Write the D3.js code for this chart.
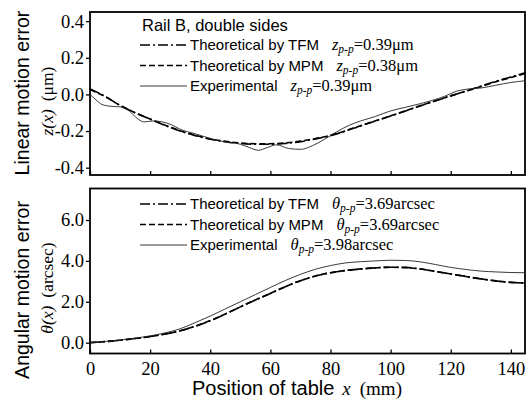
<!DOCTYPE html>
<html>
<head>
<meta charset="utf-8">
<script src="https://cdn.jsdelivr.net/npm/d3@7"></script>
<style>
body { margin: 0; background: #fff; }
</style>
</head>
<body>
<svg id="chart" width="526" height="407"></svg>
<script>
// table position (mm) for the theoretical curves
var xTheory = [0,5,10,15,20,25,30,35,40,45,50,55,60,65,70,75,80,85,90,95,100,105,110,115,120,125,130,135,140,145];

// linear motion error z(x), um
var zTFM = [0.03,-0.01,-0.06,-0.10,-0.135,-0.17,-0.20,-0.225,-0.245,-0.258,-0.268,-0.272,-0.272,-0.268,-0.258,-0.243,-0.225,-0.20,-0.172,-0.145,-0.118,-0.09,-0.062,-0.035,-0.008,0.018,0.045,0.072,0.095,0.12];
var zMPM = [0.027,-0.012,-0.06,-0.10,-0.134,-0.168,-0.198,-0.223,-0.243,-0.256,-0.265,-0.269,-0.269,-0.265,-0.255,-0.241,-0.223,-0.199,-0.171,-0.144,-0.117,-0.089,-0.061,-0.034,-0.008,0.017,0.043,0.069,0.092,0.115];

var xExp = [0,2,4,7,10,13,16,18,21,24,27,30,35,40,45,50,53,56,59,62,66,70,74,78,82,86,90,95,100,105,110,114,118,122,126,130,135,140,145];
var zExp = [0.0,-0.03,-0.055,-0.065,-0.068,-0.09,-0.135,-0.15,-0.145,-0.15,-0.165,-0.19,-0.215,-0.24,-0.26,-0.272,-0.29,-0.305,-0.29,-0.275,-0.295,-0.30,-0.28,-0.245,-0.205,-0.17,-0.145,-0.12,-0.09,-0.07,-0.05,-0.032,-0.01,0.018,0.03,0.035,0.05,0.065,0.075];

// angular motion error theta(x), arcsec
var thTFM = [0.0,0.05,0.12,0.2,0.3,0.42,0.58,0.8,1.07,1.4,1.75,2.08,2.4,2.74,3.03,3.26,3.42,3.53,3.6,3.66,3.69,3.68,3.6,3.48,3.36,3.24,3.12,3.02,2.95,2.92];
var thMPM = [0.0,0.05,0.12,0.2,0.3,0.42,0.58,0.81,1.08,1.4,1.75,2.09,2.41,2.74,3.03,3.26,3.42,3.53,3.61,3.66,3.69,3.67,3.6,3.48,3.36,3.24,3.12,3.02,2.95,2.92];
var thExp = [0.0,0.06,0.13,0.22,0.33,0.48,0.68,0.98,1.3,1.65,2.0,2.35,2.7,3.04,3.34,3.59,3.77,3.9,3.96,4.0,4.03,4.02,3.95,3.82,3.68,3.58,3.5,3.46,3.43,3.42];

var xTicks = [0,20,40,60,80,100,120,140];
var zTicks = [-0.4,-0.2,0.0,0.2,0.4];
var thTicks = [0.0,2.0,4.0,6.0];

var legendNames = ["Theoretical by TFM", "Theoretical by MPM", "Experimental"];
var zPP = ["0.39", "0.38", "0.39"];
var thPP = ["3.69", "3.69", "3.98"];

var svg = d3.select("#chart");
var serif = "'Liberation Serif', 'Times New Roman', serif";
var sans = "'Liberation Sans', Arial, sans-serif";

var x = d3.scaleLinear().domain([0, 144.7]).range([90, 525]);

var styles = [
    {dash: "10,3,2,3", width: 1.6, color: "#000"},
    {dash: "6,3", width: 1.6, color: "#000"},
    {dash: null, width: 0.9, color: "#222"}
];

function zipXY(xs, ys) {
    return xs.map(function(d, i) { return {x: d, y: ys[i]}; });
}

function drawPanel(p) {
    var y = d3.scaleLinear().domain(p.domain).range(p.range);
    var g = svg.append("g");

    // y axis, ticks outward
    var ya = g.append("g")
        .attr("transform", "translate(" + x.range()[0] + ",0)")
        .call(d3.axisLeft(y).tickValues(p.ticks).tickSize(4).tickPadding(2)
            .tickFormat(function(d) { return d3.format(".1f")(d).replace("\u2212", "-"); }));
    ya.select(".domain").remove();
    ya.selectAll("line").attr("stroke", "#000").attr("stroke-width", 1.3);
    ya.selectAll("text").attr("font-family", serif).attr("font-size", 18.5).attr("fill", "#000");

    // x axis, ticks inward
    var xa = g.append("g")
        .attr("transform", "translate(0," + p.range[0] + ")")
        .call(d3.axisBottom(x).tickValues(xTicks).tickSize(-4).tickPadding(8));
    xa.select(".domain").remove();
    xa.selectAll("line").attr("stroke", "#000").attr("stroke-width", 1.3);
    if (p.xLabels) {
        xa.selectAll("text").attr("font-family", serif).attr("font-size", 18.5).attr("fill", "#000");
    } else {
        xa.selectAll("text").remove();
    }

    // frame
    g.append("rect")
        .attr("x", x.range()[0]).attr("y", p.range[1])
        .attr("width", x.range()[1] - x.range()[0])
        .attr("height", p.range[0] - p.range[1])
        .attr("fill", "none").attr("stroke", "#000").attr("stroke-width", 1.8);

    var line = d3.line()
        .x(function(d) { return x(d.x); })
        .y(function(d) { return y(d.y); })
        .curve(d3.curveMonotoneX);

    p.series.forEach(function(s, i) {
        var st = styles[i];
        g.append("path")
            .datum(s)
            .attr("d", line)
            .attr("fill", "none")
            .attr("stroke", st.color)
            .attr("stroke-width", st.width)
            .attr("stroke-dasharray", st.dash);
    });

    // legend
    if (p.note) {
        g.append("text").attr("x", 142).attr("y", p.noteY + 5.5)
            .attr("font-family", sans).attr("font-size", 16.5).text(p.note);
    }
    legendNames.forEach(function(name, i) {
        var cy = p.legendY + i * 20.5;
        var st = styles[i];
        g.append("line")
            .attr("x1", 140).attr("x2", 187).attr("y1", cy).attr("y2", cy)
            .attr("stroke", st.color).attr("stroke-width", st.width)
            .attr("stroke-dasharray", st.dash);
        var t = g.append("text").attr("x", 190).attr("y", cy + 5)
            .attr("font-family", sans).attr("font-size", 15);
        t.append("tspan").text(name);
        t.append("tspan").attr("dx", 13).attr("font-family", serif).attr("font-size", 16.5)
            .attr("font-style", "italic").text(p.sym);
        t.append("tspan").attr("dy", 3).attr("font-family", serif).attr("font-size", 11.5)
            .attr("font-style", "italic").text("p-p");
        t.append("tspan").attr("dy", -3).attr("font-family", serif).attr("font-size", 16.5)
            .text("=" + p.pp[i] + p.unit);
    });

    // y titles
    g.append("text")
        .attr("transform", "translate(29," + p.titleY + ") rotate(-90)")
        .attr("text-anchor", "middle")
        .attr("font-family", sans).attr("font-size", 19.5)
        .text(p.title);
    var sub = g.append("text")
        .attr("transform", "translate(53," + p.subY + ") rotate(-90)")
        .attr("text-anchor", "middle")
        .attr("font-family", serif).attr("font-size", 17.5);
    sub.append("tspan").attr("font-style", "italic").text(p.sym + "(x)");
    sub.append("tspan").attr("dx", 8).text(p.subUnit);
}

drawPanel({
    domain: [-0.44, 0.45], range: [175, 12], ticks: zTicks, xLabels: false,
    series: [zipXY(xTheory, zTFM), zipXY(xTheory, zMPM), zipXY(xExp, zExp)],
    note: "Rail B, double sides", noteY: 25, legendY: 45,
    sym: "z", pp: zPP, unit: "\u03bcm",
    title: "Linear motion error", titleY: 93, subUnit: "(\u03bcm)", subY: 101
});

drawPanel({
    domain: [-0.53, 7.54], range: [353.5, 188.5], ticks: thTicks, xLabels: true,
    series: [zipXY(xTheory, thTFM), zipXY(xTheory, thMPM), zipXY(xTheory, thExp)],
    note: null, legendY: 204,
    sym: "\u03b8", pp: thPP, unit: "arcsec",
    title: "Angular motion error", titleY: 290, subUnit: "(arcsec)", subY: 288
});

// x title
var xt = svg.append("text")
    .attr("x", 297).attr("y", 395)
    .attr("text-anchor", "middle")
    .attr("font-family", sans).attr("font-size", 20);
xt.append("tspan").text("Position of table");
xt.append("tspan").attr("dx", 8).attr("font-family", serif).attr("font-style", "italic").attr("font-size", 19).text("x");
xt.append("tspan").attr("dx", 9).attr("font-family", serif).attr("font-size", 19).text("(mm)");
</script>
</body>
</html>
